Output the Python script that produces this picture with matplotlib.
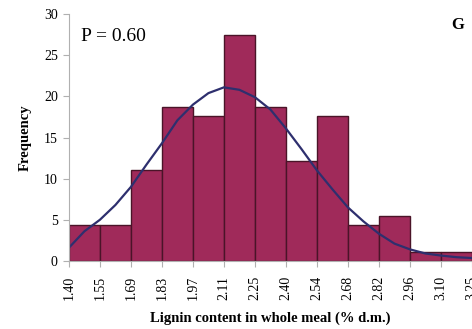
import numpy as np
import matplotlib.pyplot as plt

# границы классов (подписи оси X)
edge_labels = ['1.40', '1.55', '1.69', '1.83', '1.97', '2.11', '2.25',
               '2.40', '2.54', '2.68', '2.82', '2.96', '3.10', '3.25']
# частоты по классам (%)
freq = [4.4, 4.4, 11.0, 18.7, 17.6, 27.5, 18.7, 12.1, 17.6, 4.4, 5.5, 1.1, 1.1]
# нормальная кривая (шаг - половина класса)
curve_y = [1.6, 3.6, 5.0, 6.8, 9.0, 11.7, 14.3, 17.1, 19.0, 20.4, 21.1,
           20.8, 19.9, 18.4, 16.1, 13.6, 11.0, 8.7, 6.5, 4.8, 3.3,
           2.1, 1.4, 0.9, 0.65, 0.45, 0.35]

bar_color = '#a02a5a'
edge_color = '#4a1428'
line_color = '#2e2f6e'
axis_color = '#b0b0b0'

plt.rcParams['font.family'] = ['Liberation Serif', 'DejaVu Serif']

fig = plt.figure(figsize=(4.72, 3.29), dpi=100)
ax = fig.add_axes([0.146, 0.207, 0.854, 0.750])

pos = np.arange(len(freq))
ax.bar(pos, freq, width=1.0, align='edge', color=bar_color,
       edgecolor=edge_color, linewidth=1.0)

curve_x = np.arange(len(curve_y)) * 0.5
ax.plot(curve_x, curve_y, color=line_color, linewidth=1.6)

ax.set_xlim(0, len(edge_labels) - 1)
ax.set_ylim(0, 30)
ax.set_yticks(range(0, 31, 5))
ax.set_xticks(range(len(edge_labels)))
ax.set_xticklabels(edge_labels, rotation=90, fontsize=10)
ax.tick_params(axis='y', labelsize=10, color=axis_color, length=4, pad=4)
ax.tick_params(axis='x', color=axis_color, length=4, pad=7)

for s in ['top', 'right']:
    ax.spines[s].set_visible(False)
for s in ['left', 'bottom']:
    ax.spines[s].set_color(axis_color)

ax.set_ylabel('Frequency', fontweight='bold', fontsize=10.5, labelpad=9)
ax.set_xlabel('Lignin content in whole meal (% d.m.)', fontweight='bold',
              fontsize=10.5, labelpad=8)

ax.text(0.03, 0.91, 'P = 0.60', transform=ax.transAxes, fontsize=14,
        va='center')
fig.text(0.97, 0.925, 'G', fontsize=12, fontweight='bold', ha='center',
         va='center')

plt.savefig('out.png', dpi=100)
